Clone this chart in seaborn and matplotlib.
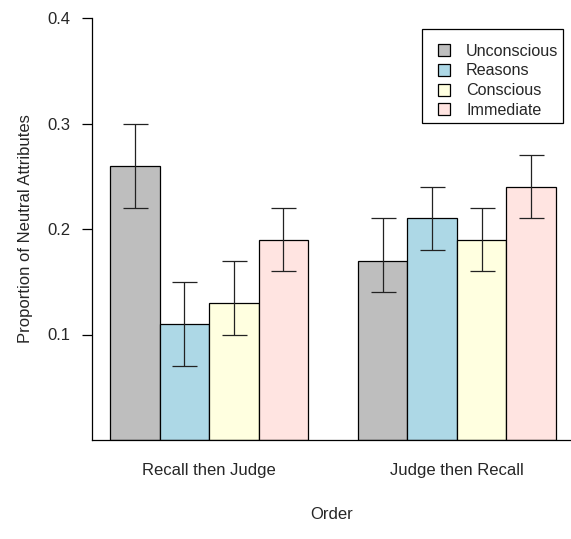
import pandas as pd
import numpy as np
import matplotlib
matplotlib.use("Agg")
import matplotlib.pyplot as plt
from matplotlib.lines import Line2D
import seaborn as sns

# values
orders = ["Recall then Judge", "Judge then Recall"]
conditions = ["Unconscious", "Reasons", "Conscious", "Immediate"]
colors = ["#BEBEBE", "#ADD8E6", "#FFFFE0", "#FFE4E1"]

recall_first = [0.26, 0.11, 0.13, 0.19]
recall_first_lo = [0.22, 0.07, 0.10, 0.16]
recall_first_hi = [0.30, 0.15, 0.17, 0.22]

judge_first = [0.17, 0.21, 0.19, 0.24]
judge_first_lo = [0.14, 0.18, 0.16, 0.21]
judge_first_hi = [0.21, 0.24, 0.22, 0.27]

y_ticks = [0.1, 0.2, 0.3, 0.4]


def main():
    df = pd.DataFrame({
        "Order": [orders[0]] * 4 + [orders[1]] * 4,
        "Condition": conditions * 2,
        "prop": recall_first + judge_first,
        "lo": recall_first_lo + judge_first_lo,
        "hi": recall_first_hi + judge_first_hi,
    })

    sns.set_style("white")
    plt.rcParams["font.family"] = ["Liberation Sans", "DejaVu Sans"]
    plt.rcParams["font.size"] = 12

    fig = plt.figure(figsize=(5.71, 5.39), dpi=100)
    ax = fig.add_axes([92 / 571, 99 / 539, 479 / 571, 422 / 539])

    sns.barplot(data=df, x="Order", y="prop", hue="Condition",
                order=orders, hue_order=conditions, palette=colors,
                edgecolor="black", linewidth=0.9, saturation=1,
                errorbar=None, legend=False, ax=ax)

    # error bars placed on top of the drawn bars
    for cond, cont in zip(conditions, ax.containers):
        for order, bar in zip(orders, cont.patches):
            row = df[(df["Order"] == order) & (df["Condition"] == cond)].iloc[0]
            xc = bar.get_x() + bar.get_width() / 2
            ax.errorbar(xc, row["prop"],
                        yerr=[[row["prop"] - row["lo"]], [row["hi"] - row["prop"]]],
                        fmt="none", ecolor="#222222", elinewidth=0.9,
                        capsize=9, capthick=0.9)

    ax.set_xlim(-0.4726, 1.4605)
    ax.set_ylim(0, 0.4)
    ax.set_yticks(y_ticks)
    ax.set_yticklabels([f"{t:.1f}" for t in y_ticks])
    ax.tick_params(axis="y", left=True, length=7, width=0.9, color="black",
                   pad=8.5, labelsize=12)
    ax.tick_params(axis="x", bottom=False, pad=13, labelsize=12)

    for side in ["top", "right"]:
        ax.spines[side].set_visible(False)
    for side in ["left", "bottom"]:
        ax.spines[side].set_color("black")
        ax.spines[side].set_linewidth(0.9)

    ax.set_xlabel("Order", fontsize=12, labelpad=21)
    ax.set_ylabel("Proportion of Neutral Attributes", fontsize=12, labelpad=10)

    handles = [Line2D([], [], linestyle="none", marker="s", markersize=8,
                      markerfacecolor=c, markeredgecolor="black",
                      markeredgewidth=0.9) for c in colors]
    # tiny blank title pushes the rows down, like the R legend
    leg = ax.legend(handles=handles, labels=conditions,
                    loc="upper left", bbox_to_anchor=(0.689, 0.974),
                    borderaxespad=0, fancybox=False, framealpha=1,
                    edgecolor="black", fontsize=11.6, handlelength=2.07,
                    handletextpad=0.36, labelspacing=0.3, borderpad=0.3,
                    title=" ", title_fontsize=3.5)
    leg.get_frame().set_linewidth(0.9)

    fig.savefig("out.png", dpi=100)


if __name__ == "__main__":
    main()
